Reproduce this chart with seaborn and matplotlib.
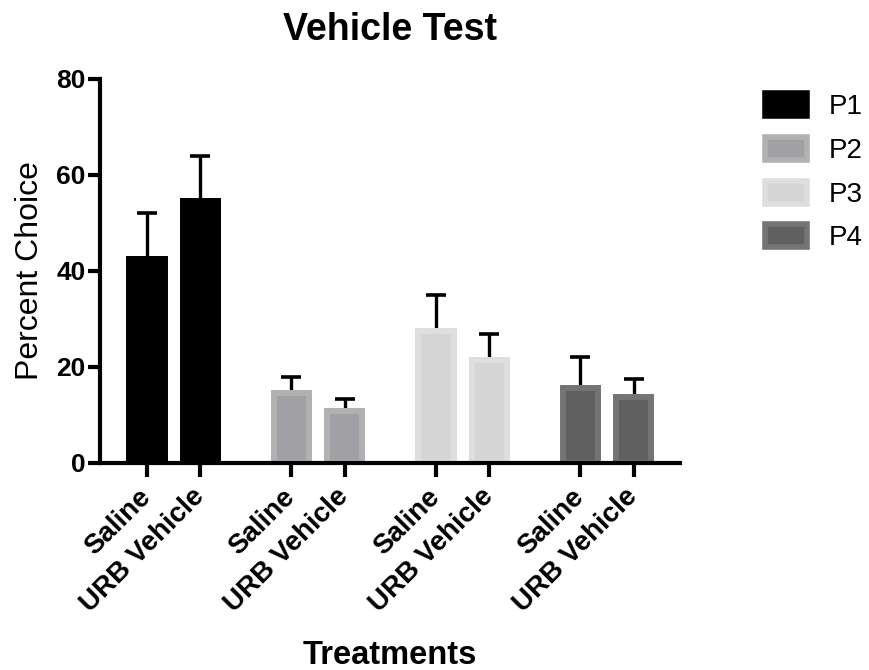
import matplotlib
matplotlib.use("Agg")
import matplotlib.pyplot as plt
from matplotlib.patches import Patch
import numpy as np
import pandas as pd
import seaborn as sns

# ---- data ----
groups = ["P1", "P2", "P3", "P4"]
treatments = ["Saline", "URB Vehicle"]
saline_mean = [42.5, 14.5, 27.5, 15.7]
urb_mean = [54.6, 10.8, 21.5, 13.7]
saline_err = [9.6, 3.5, 7.6, 6.3]
urb_err = [9.4, 2.5, 5.3, 3.7]
y_ticks = [0, 20, 40, 60, 80]

# ---- styling ----
outer_colors = {"P1": "#000000", "P2": "#b1b1b1", "P3": "#dedede", "P4": "#747474"}
inner_colors = {"P1": "#000000", "P2": "#a0a0a5", "P3": "#d5d5d5", "P4": "#606060"}

sns.set_style("white")
plt.rcParams["font.family"] = ["Liberation Sans", "DejaVu Sans"]
plt.rcParams.update({"text.color": "black", "axes.labelcolor": "black",
                     "xtick.color": "black", "ytick.color": "black"})

df = pd.DataFrame({
    "group": groups * 2,
    "treatment": [treatments[0]] * len(groups) + [treatments[1]] * len(groups),
    "value": saline_mean + urb_mean,
})
errs = {treatments[0]: saline_err, treatments[1]: urb_err}
means = {treatments[0]: saline_mean, treatments[1]: urb_mean}

fig = plt.figure(figsize=(8.7, 6.7), dpi=100)
ax = fig.add_axes([100 / 870, 1 - 463 / 670, 580 / 870, 384 / 670])

sns.barplot(data=df, x="group", y="value", hue="treatment", order=groups,
            hue_order=treatments, width=0.74, gap=0.34, errorbar=None,
            legend=False, ax=ax, zorder=2)

bar_conts = list(ax.containers)
tick_pos, tick_lab = [], []
for ti, cont in enumerate(bar_conts):
    xs = []
    for gi, bar in enumerate(cont):
        g = groups[gi]
        bar.set_facecolor(inner_colors[g])
        bar.set_edgecolor(outer_colors[g])
        bar.set_linewidth(4.3)
        bar.set_joinstyle("miter")
        xc = bar.get_x() + bar.get_width() / 2
        xs.append(xc)
        tick_pos.append(xc)
        tick_lab.append(treatments[ti])
    t = treatments[ti]
    ax.errorbar(xs, means[t], yerr=[np.zeros(len(xs)), errs[t]], fmt="none",
                ecolor="black", elinewidth=2.4, capsize=7.5, capthick=2.6,
                zorder=1)

ax.set_xlim(-0.51, 3.505)
ax.set_ylim(0, 80)
ax.set_yticks(y_ticks)
ax.set_xticks(tick_pos)
ax.set_xticklabels(tick_lab, rotation=45, ha="right", va="center",
                   rotation_mode="anchor", fontsize=20, fontweight="bold")
for lab in ax.get_yticklabels():
    lab.set_fontweight("bold")
    lab.set_fontsize(19)

for s in ["top", "right"]:
    ax.spines[s].set_visible(False)
for s in ["left", "bottom"]:
    ax.spines[s].set_linewidth(3)
    ax.spines[s].set_color("black")
ax.tick_params(axis="y", direction="out", length=8.5, width=3, pad=2, left=True)
ax.tick_params(axis="x", direction="out", length=10, width=3, pad=11.5, bottom=True)

ax.set_xlabel("Treatments", fontsize=23.5, fontweight="bold", labelpad=16)
ax.set_ylabel("Percent Choice", fontsize=23, labelpad=8)
ax.set_title("Vehicle Test", fontsize=27, fontweight="bold", pad=28)

handles = [Patch(facecolor=inner_colors[g], edgecolor=outer_colors[g],
                 linewidth=4, label=g) for g in groups]
fig.legend(handles=handles, loc="upper left", bbox_to_anchor=(765 / 870, 1 - 93 / 670),
           frameon=False, fontsize=20, handlelength=1.5, handleheight=0.9,
           handletextpad=0.8, labelspacing=0.6, borderpad=0, borderaxespad=0)

fig.savefig("out.png", dpi=100)
